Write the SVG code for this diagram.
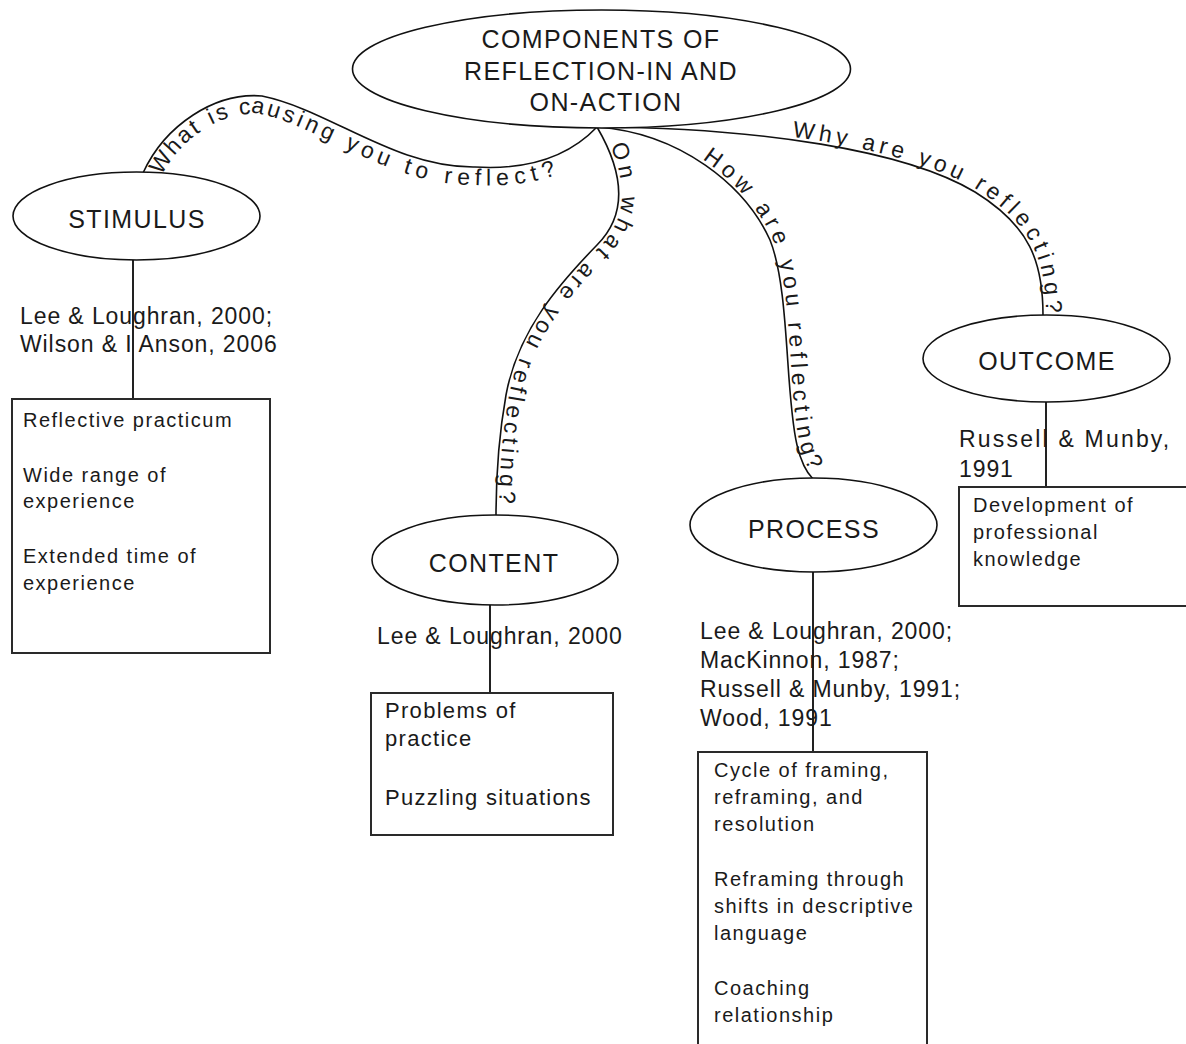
<svg xmlns="http://www.w3.org/2000/svg" width="1186" height="1044" viewBox="0 0 1186 1044">
  <style>
    text { font-family: "Liberation Sans", Arial, Helvetica, sans-serif; fill: #1a1a1a; }
    .node { fill: #fff; stroke: #111; stroke-width: 1.6; }
    .box { fill: #fff; stroke: #2a2a2a; stroke-width: 2; }
    .link { fill: none; stroke: #111; stroke-width: 1.6; }
    .stem { fill: none; stroke: #222; stroke-width: 2; }
    .title { font-size: 25px; letter-spacing: 1.4px; text-anchor: middle; }
    .cite { font-size: 23px; letter-spacing: 0.9px; }
    .item { font-size: 20px; letter-spacing: 1.5px; }
    .item-lg { font-size: 22px; letter-spacing: 1.3px; }
    .ask { font-size: 23px; letter-spacing: 4.4px; }
  </style>
  <defs>
    <path id="p-stimulus" d="M143,173 C165,125 215,92 262,96 C330,110 395,168 475,167 C540,171 575,150 597,127"/>
    <path id="p-content" d="M597,127 C625,175 627,215 597,245 C560,283 518,330 506,395 C498,440 496,485 496,516"/>
    <path id="p-process" d="M597,127 C680,133 745,185 770,240 C790,290 785,395 797,445 C801,462 806,472 813,479"/>
    <path id="p-outcome" d="M597,127 C760,128 905,150 975,192 C1030,226 1043,262 1043,315"/>
  </defs>

  <rect width="1186" height="1044" fill="#fff"/>

  <!-- curved links from the central node, each carrying its question -->
  <g id="connectors">
    <use href="#p-stimulus" class="link"/>
    <use href="#p-content" class="link"/>
    <use href="#p-process" class="link"/>
    <use href="#p-outcome" class="link"/>
    <line class="stem" x1="133" y1="260" x2="133" y2="399"/>
    <line class="stem" x1="490" y1="605" x2="490" y2="693"/>
    <line class="stem" x1="813" y1="572" x2="813" y2="752"/>
    <line class="stem" x1="1046" y1="402" x2="1046" y2="487"/>
    <text class="ask"><textPath href="#p-stimulus" startOffset="8"><tspan dy="18">What is causing you to reflect?</tspan></textPath></text>
    <text class="ask" style="letter-spacing:4.3px"><textPath href="#p-content" startOffset="22"><tspan dy="-3">On what are you reflecting?</tspan></textPath></text>
    <text class="ask" style="letter-spacing:4.6px"><textPath href="#p-process" startOffset="110"><tspan dy="-3">How are you reflecting?</tspan></textPath></text>
    <text class="ask" style="letter-spacing:4.4px"><textPath href="#p-outcome" startOffset="195"><tspan dy="-3">Why are you reflecting?</tspan></textPath></text>
  </g>

  <!-- central topic -->
  <g id="node-main">
    <ellipse class="node" cx="601.5" cy="69" rx="249" ry="59"/>
    <text class="title" x="601" y="48">COMPONENTS OF</text>
    <text class="title" x="601" y="80">REFLECTION-IN AND</text>
    <text class="title" x="606" y="111">ON-ACTION</text>
  </g>

  <!-- stimulus branch -->
  <g id="node-stimulus">
    <ellipse class="node" cx="136.5" cy="216" rx="123.5" ry="44"/>
    <text class="title" x="137" y="228">STIMULUS</text>
  </g>
  <g id="cite-stimulus">
    <text class="cite" x="20" y="324">Lee &amp; Loughran, 2000;</text>
    <text class="cite" x="20" y="352">Wilson &amp; I Anson, 2006</text>
  </g>
  <g id="box-stimulus">
    <rect class="box" x="12" y="399" width="258" height="254"/>
    <text class="item" x="23" y="427">Reflective practicum</text>
    <text class="item" x="23" y="482">Wide range of</text>
    <text class="item" x="23" y="508">experience</text>
    <text class="item" x="23" y="563">Extended time of</text>
    <text class="item" x="23" y="590">experience</text>
  </g>

  <!-- content branch -->
  <g id="node-content">
    <ellipse class="node" cx="495" cy="560" rx="123" ry="45"/>
    <text class="title" x="494" y="572">CONTENT</text>
  </g>
  <g id="cite-content">
    <text class="cite" x="377" y="644">Lee &amp; Loughran, 2000</text>
  </g>
  <g id="box-content">
    <rect class="box" x="371" y="693" width="242" height="142"/>
    <text class="item-lg" x="385" y="718">Problems of</text>
    <text class="item-lg" x="385" y="746">practice</text>
    <text class="item-lg" x="385" y="805">Puzzling situations</text>
  </g>

  <!-- process branch -->
  <g id="node-process">
    <ellipse class="node" cx="813.5" cy="525" rx="123.5" ry="47"/>
    <text class="title" x="814" y="538">PROCESS</text>
  </g>
  <g id="cite-process">
    <text class="cite" x="700" y="639">Lee &amp; Loughran, 2000;</text>
    <text class="cite" x="700" y="668">MacKinnon, 1987;</text>
    <text class="cite" x="700" y="697">Russell &amp; Munby, 1991;</text>
    <text class="cite" x="700" y="726">Wood, 1991</text>
  </g>
  <g id="box-process">
    <rect class="box" x="698" y="752" width="229" height="320"/>
    <text class="item" x="714" y="777">Cycle of framing,</text>
    <text class="item" x="714" y="804">reframing, and</text>
    <text class="item" x="714" y="831">resolution</text>
    <text class="item" x="714" y="886">Reframing through</text>
    <text class="item" x="714" y="913">shifts in descriptive</text>
    <text class="item" x="714" y="940">language</text>
    <text class="item" x="714" y="995">Coaching</text>
    <text class="item" x="714" y="1022">relationship</text>
  </g>

  <!-- outcome branch -->
  <g id="node-outcome">
    <ellipse class="node" cx="1046.5" cy="358.5" rx="123.5" ry="43.5"/>
    <text class="title" x="1047" y="370">OUTCOME</text>
  </g>
  <g id="cite-outcome">
    <text class="cite" x="959" y="447" style="letter-spacing:2.2px">Russell &amp; Munby,</text>
    <text class="cite" x="959" y="477">1991</text>
  </g>
  <g id="box-outcome">
    <rect class="box" x="959" y="487" width="240" height="119"/>
    <text class="item" x="973" y="512">Development of</text>
    <text class="item" x="973" y="539">professional</text>
    <text class="item" x="973" y="566">knowledge</text>
  </g>
</svg>
